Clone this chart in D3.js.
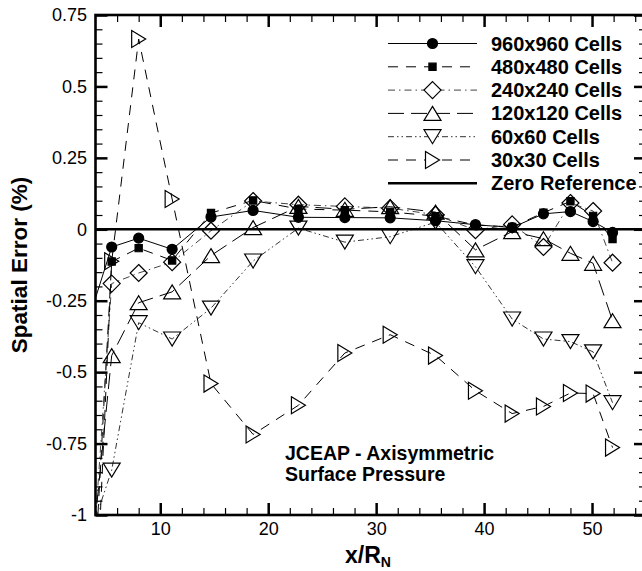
<!DOCTYPE html>
<html><head><meta charset="utf-8">
<script src="https://cdn.jsdelivr.net/npm/d3@7"></script>
<style>
body{margin:0;background:#fff}
svg{display:block}
text{font-family:"Liberation Sans",Arial,Helvetica,sans-serif;fill:#000}
</style>
</head><body>
<svg id="chart" width="642" height="571"></svg>
<script>
// ---------------- data ----------------
const xValues = [3.5, 5.5, 8.0, 11.1, 14.7, 18.6, 22.8, 27.1, 31.3, 35.5, 39.2, 42.6, 45.5, 48.0, 50.1, 51.9];
const cells960 = [-0.30, -0.062, -0.031, -0.070, 0.043, 0.066, 0.042, 0.041, 0.040, 0.030, 0.016, 0.006, 0.054, 0.062, 0.027, -0.011];
const cells480 = [-1.50, -0.113, -0.066, -0.109, 0.057, 0.101, 0.071, 0.067, 0.061, 0.046, 0.015, 0.008, 0.058, 0.098, 0.047, -0.034];
const cells240 = [-1.30, -0.190, -0.153, -0.115, -0.005, 0.099, 0.086, 0.080, 0.074, 0.051, -0.003, 0.017, -0.062, 0.092, 0.064, -0.117];
const cells120 = [-1.20, -0.442, -0.257, -0.219, -0.092, 0.006, 0.080, 0.070, 0.079, 0.060, -0.072, -0.008, -0.033, -0.084, -0.119, -0.320];
const cells60  = [-1.07, -0.843, -0.327, -0.384, -0.276, -0.111, 0.004, -0.045, -0.026, 0.025, -0.131, -0.314, -0.384, -0.393, -0.429, -0.607];
const cells30  = [-1.80, -0.112, 0.666, 0.106, -0.540, -0.718, -0.616, -0.433, -0.369, -0.442, -0.565, -0.645, -0.620, -0.573, -0.575, -0.764];
const seriesNames = ["960x960 Cells", "480x480 Cells", "240x240 Cells", "120x120 Cells", "60x60 Cells", "30x30 Cells"];
const zeroLabel = "Zero Reference";
const xTickValues = [10, 20, 30, 40, 50];
const xTickLabels = ["10", "20", "30", "40", "50"];
const yTickValues = [0.75, 0.5, 0.25, 0, -0.25, -0.5, -0.75, -1];
const yTickLabels = ["0.75", "0.5", "0.25", "0", "-0.25", "-0.5", "-0.75", "-1"];
const xDomain = [4, 55];
const yDomain = [-1, 0.75];
const yTitle = "Spatial Error (%)";
const noteLines = ["JCEAP - Axisymmetric", "Surface Pressure"];

// ---------------- layout ----------------
const svg = d3.select("#chart");
const m = {left: 95.5, top: 15, right: 646, bottom: 515};
const x = d3.scaleLinear().domain(xDomain).range([m.left, m.right]);
const y = d3.scaleLinear().domain(yDomain).range([m.bottom, m.top]);

svg.append("defs").append("clipPath").attr("id", "plotclip")
  .append("rect").attr("x", m.left).attr("y", m.top)
  .attr("width", m.right - m.left).attr("height", m.bottom - m.top);

// marker shapes
const markers = {
  circle: "M5,0A5,5 0 1,1 -5,0A5,5 0 1,1 5,0Z",
  square: "M-3.6,-3.6h7.2v7.2h-7.2Z",
  diamond: "M0,-8.5L8.5,0L0,8.5L-8.5,0Z",
  up: "M0,-7L8.5,7L-8.5,7Z",
  down: "M-8.5,-7L8.5,-7L0,7Z",
  right: "M-7,-8.5L7,0L-7,8.5Z"
};
const styles = [
  {values: cells960, marker: "circle", fill: "#000", dash: null, color: "#000"},
  {values: cells480, marker: "square", fill: "#000", dash: "10,8", color: "#000"},
  {values: cells240, marker: "diamond", fill: "none", dash: "7,4,1.5,4", color: "#444"},
  {values: cells120, marker: "up", fill: "none", dash: "16,7", color: "#000"},
  {values: cells60, marker: "down", fill: "none", dash: "6,3,1.5,3,1.5,3", color: "#333"},
  {values: cells30, marker: "right", fill: "none", dash: "10,8", color: "#000"}
];

// ---------------- axes (inward ticks on all four sides) ----------------
const xMinor = d3.range(6, 55, 2).filter(v => v % 10 !== 0);
const yMinor = d3.range(-95, 75, 5).map(v => v / 100).filter(v => Math.abs(Math.round(v * 100) % 25) !== 0);

function styleAxis(g) {
  g.select(".domain").remove();
  g.selectAll(".tick line").attr("stroke", "#000");
  g.selectAll("text").attr("font-size", 18).attr("font-family", '"Liberation Sans",Arial,sans-serif').attr("fill", "#000");
}
// bottom
svg.append("g").attr("transform", `translate(0,${m.bottom})`)
  .call(d3.axisBottom(x).tickValues(xTickValues).tickSize(-12).tickPadding(7.5)
    .tickFormat((d, i) => xTickLabels[i])).call(styleAxis)
  .selectAll(".tick line").attr("stroke-width", 2.5);
svg.append("g").attr("transform", `translate(0,${m.bottom})`)
  .call(d3.axisBottom(x).tickValues(xMinor).tickSize(-7).tickFormat("")).call(styleAxis)
  .selectAll(".tick line").attr("stroke-width", 1.2);
// top
svg.append("g").attr("transform", `translate(0,${m.top})`)
  .call(d3.axisTop(x).tickValues(xTickValues).tickSize(-12).tickFormat("")).call(styleAxis)
  .selectAll(".tick line").attr("stroke-width", 2.5);
svg.append("g").attr("transform", `translate(0,${m.top})`)
  .call(d3.axisTop(x).tickValues(xMinor).tickSize(-7).tickFormat("")).call(styleAxis)
  .selectAll(".tick line").attr("stroke-width", 1.2);
// left
svg.append("g").attr("transform", `translate(${m.left},0)`)
  .call(d3.axisLeft(y).tickValues(yTickValues).tickSize(-12).tickPadding(8.5)
    .tickFormat((d, i) => yTickLabels[i])).call(styleAxis)
  .selectAll(".tick line").attr("stroke-width", 2.5);
svg.append("g").attr("transform", `translate(${m.left},0)`)
  .call(d3.axisLeft(y).tickValues(yMinor).tickSize(-7).tickFormat("")).call(styleAxis)
  .selectAll(".tick line").attr("stroke-width", 1.2);
// right
svg.append("g").attr("transform", `translate(${m.right},0)`)
  .call(d3.axisRight(y).tickValues(yTickValues).tickSize(-12).tickFormat("")).call(styleAxis)
  .selectAll(".tick line").attr("stroke-width", 2.5);
svg.append("g").attr("transform", `translate(${m.right},0)`)
  .call(d3.axisRight(y).tickValues(yMinor).tickSize(-7).tickFormat("")).call(styleAxis)
  .selectAll(".tick line").attr("stroke-width", 1.2);

// ---------------- series ----------------
const plot = svg.append("g").attr("clip-path", "url(#plotclip)");
const line = d3.line().x(d => x(d[0])).y(d => y(d[1]));

styles.forEach(s => {
  const pts = xValues.map((xv, i) => [xv, s.values[i]]);
  plot.append("path").attr("d", line(pts)).attr("fill", "none")
    .attr("stroke", s.color).attr("stroke-width", 1)
    .attr("stroke-dasharray", s.dash);
});
// zero reference
plot.append("line").attr("x1", m.left).attr("x2", m.right)
  .attr("y1", y(0)).attr("y2", y(0)).attr("stroke", "#000").attr("stroke-width", 2.6);

styles.forEach(s => {
  const pts = xValues.map((xv, i) => [xv, s.values[i]])
    .filter(d => d[0] >= xDomain[0] && d[1] >= yDomain[0] && d[1] <= yDomain[1]);
  plot.selectAll(null).data(pts).enter().append("path")
    .attr("d", markers[s.marker])
    .attr("transform", d => `translate(${x(d[0])},${y(d[1])})`)
    .attr("fill", s.fill).attr("stroke", "#000").attr("stroke-width", 1.2);
});

// frame
svg.append("rect").attr("x", m.left).attr("y", m.top)
  .attr("width", m.right - m.left).attr("height", m.bottom - m.top)
  .attr("fill", "none").attr("stroke", "#000").attr("stroke-width", 2.6);

// ---------------- legend ----------------
const lg = svg.append("g");
const rowY = i => 43.5 + i * 23.3;
styles.forEach((s, i) => {
  lg.append("line").attr("x1", 388).attr("x2", 477).attr("y1", rowY(i)).attr("y2", rowY(i))
    .attr("stroke", s.color).attr("stroke-width", 1).attr("stroke-dasharray", s.dash);
  lg.append("path").attr("d", markers[s.marker])
    .attr("transform", `translate(432.5,${rowY(i)})`)
    .attr("fill", s.fill === "none" ? "#fff" : s.fill).attr("stroke", "#000").attr("stroke-width", 1.2);
  lg.append("text").attr("x", 491).attr("y", rowY(i) + 7)
    .attr("font-size", 20).attr("font-weight", "bold").text(seriesNames[i]);
});
lg.append("line").attr("x1", 388).attr("x2", 477).attr("y1", rowY(6)).attr("y2", rowY(6))
  .attr("stroke", "#000").attr("stroke-width", 2.6);
lg.append("text").attr("x", 491).attr("y", rowY(6) + 7)
  .attr("font-size", 20).attr("font-weight", "bold").text(zeroLabel);

// ---------------- annotation & titles ----------------
noteLines.forEach((t, i) => {
  svg.append("text").attr("x", 285).attr("y", 460 + i * 21)
    .attr("font-size", 19.5).attr("font-weight", "bold").text(t);
});

svg.append("text").attr("transform", `translate(27,${(m.top + m.bottom) / 2}) rotate(-90)`)
  .attr("text-anchor", "middle").attr("font-size", 22.5).attr("font-weight", "bold").text(yTitle);

const xt = svg.append("text").attr("x", 368).attr("y", 563).attr("text-anchor", "middle")
  .attr("font-size", 23).attr("font-weight", "bold");
xt.append("tspan").text("x/R");
xt.append("tspan").attr("font-size", 14).attr("dy", 3.5).text("N");
</script>
</body></html>
